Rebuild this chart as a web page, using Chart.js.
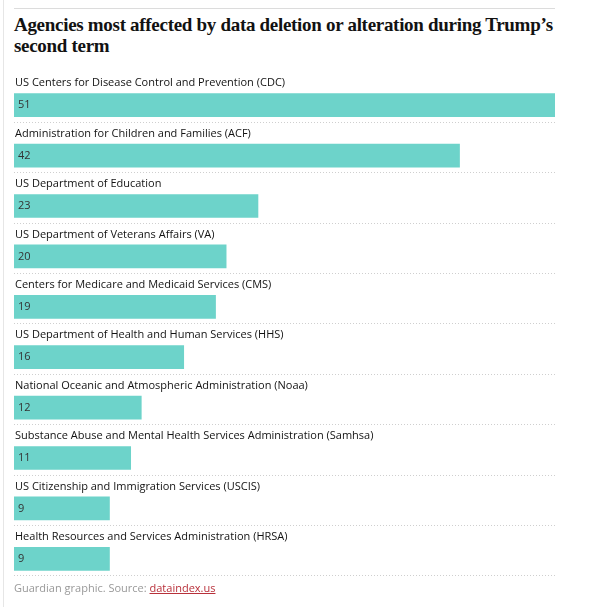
<!DOCTYPE html>
<html><head><meta charset="utf-8">
<script src="https://cdn.jsdelivr.net/npm/chart.js@4"></script>
<style>
body{margin:0;background:#fff;width:590px;height:607px;position:relative;overflow:hidden;font-family:"Open Sans",sans-serif}
#rule{position:absolute;left:14px;top:8px;width:541px;border-top:1px solid #dcdcdc}
#lb{position:absolute;left:3px;top:0;height:607px;border-left:1px solid #e6e6e6}
h1{position:absolute;left:14px;top:14px;margin:0;width:575px;font-family:"Liberation Serif",serif;font-weight:bold;font-size:19px;line-height:21px;color:#121212;letter-spacing:-0.3px}
#c{position:absolute;left:0;top:0}
#src{position:absolute;left:14px;top:580px;font-size:11px;color:#999}
#src span{color:#b8303a;text-decoration:underline}
</style></head><body>
<div id="lb"></div><div id="rule"></div>
<h1>Agencies most affected by data deletion or alteration during Trump’s second term</h1>
<div id="c"><canvas id="cv" width="590" height="607"></canvas></div>
<div id="src">Guardian graphic. Source: <span>dataindex.us</span></div>
<script>
const categories=["US Centers for Disease Control and Prevention (CDC)","Administration for Children and Families (ACF)","US Department of Education","US Department of Veterans Affairs (VA)","Centers for Medicare and Medicaid Services (CMS)","US Department of Health and Human Services (HHS)","National Oceanic and Atmospheric Administration (Noaa)","Substance Abuse and Mental Health Services Administration (Samhsa)","US Citizenship and Immigration Services (USCIS)","Health Resources and Services Administration (HRSA)"];
const values=[51,42,23,20,19,16,12,11,9,9];
const labelsPlugin={id:'lbl',afterDatasetsDraw(ch){
  const c=ch.ctx,meta=ch.getDatasetMeta(0),ca=ch.chartArea;
  c.save();
  meta.data.forEach((b,i)=>{
    c.fillStyle='#121212';c.font='11px "Open Sans"';c.textBaseline='middle';c.textAlign='left';
    c.fillText(categories[i],ca.left+1,b.y-22);
    c.fillStyle='#333';c.fillText(String(values[i]),ca.left+4,b.y);
    c.strokeStyle='#cfcfcf';c.setLineDash([1,2]);c.lineWidth=1;
    c.beginPath();c.moveTo(ca.left,Math.round(b.y+16.5)+0.5);c.lineTo(555,Math.round(b.y+16.5)+0.5);c.stroke();
  });
  c.restore();}};
new Chart(document.getElementById('cv'),{type:'bar',
 data:{labels:categories,datasets:[{data:values,backgroundColor:'#6dd3ca',barThickness:23,borderWidth:0}]},
 options:{indexAxis:'y',responsive:false,animation:false,
  layout:{padding:{left:14,right:35,top:80,bottom:23}},
  plugins:{legend:{display:false},tooltip:{enabled:false}},
  scales:{x:{display:false,min:0,max:51},y:{display:false}}},
 plugins:[labelsPlugin]});
</script></body></html>
